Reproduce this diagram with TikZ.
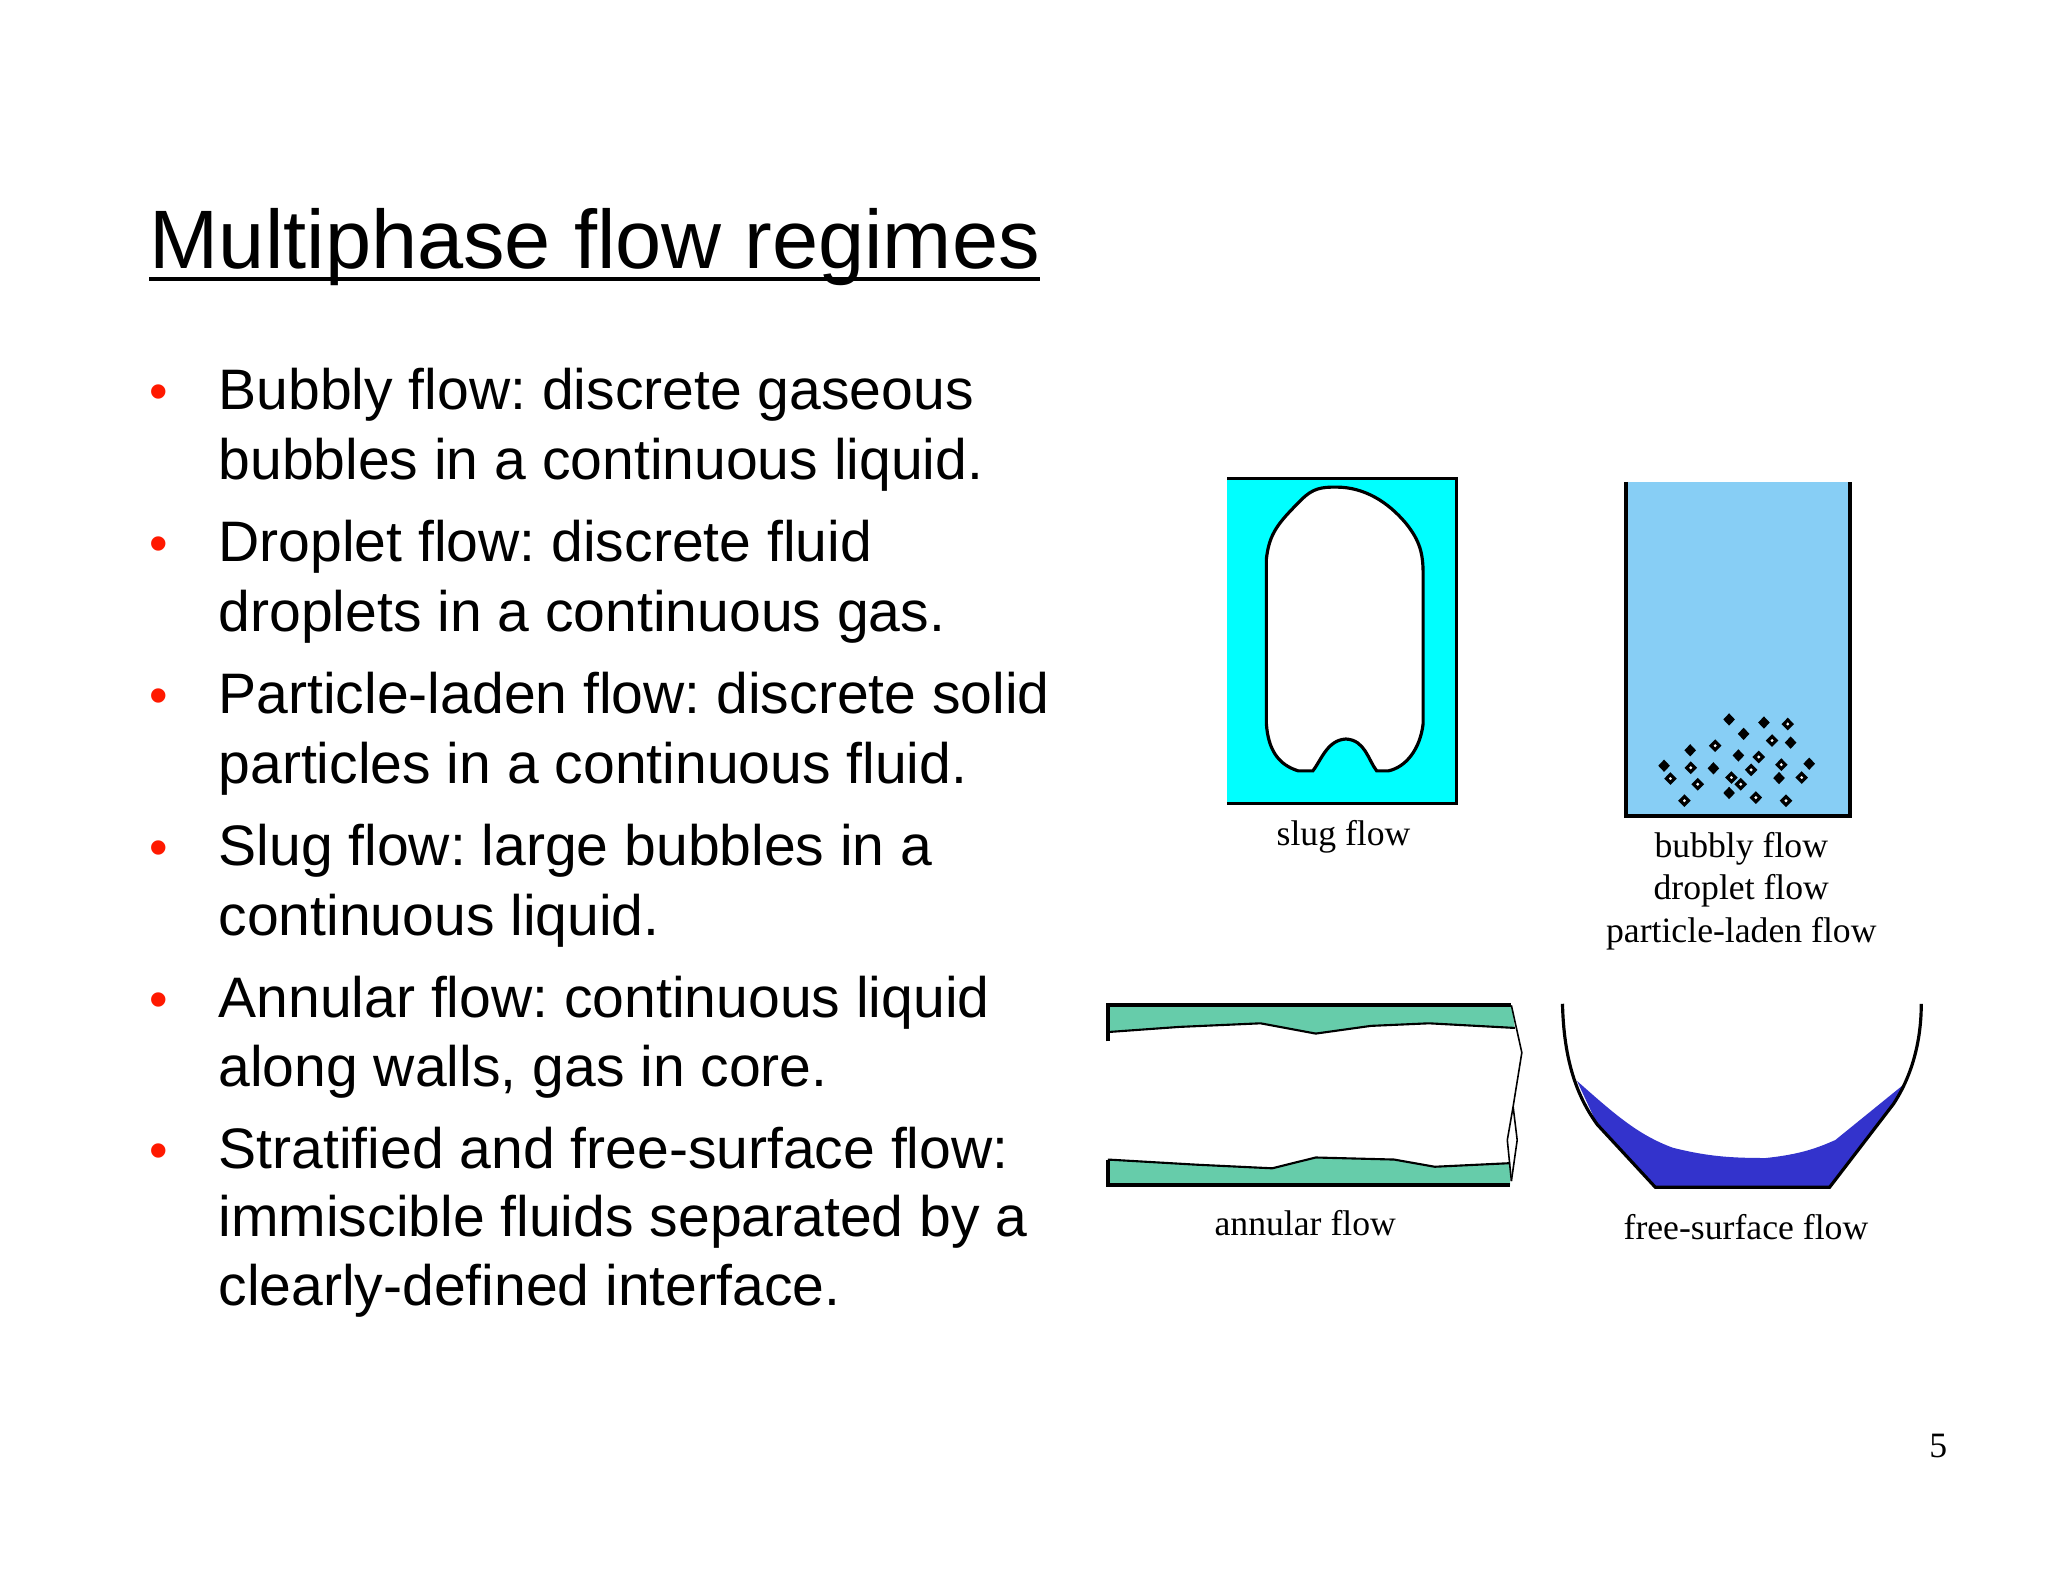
\documentclass[tikz,border=0pt]{standalone}
\usepackage{fontspec}
\setmainfont{Liberation Serif}
\newfontfamily\arial{Liberation Sans}
\frenchspacing
\begin{document}
\begin{tikzpicture}[x=0.5pt,y=-0.5pt,
  line/.style={font=\arial\fontsize{21.6}{24}\selectfont,anchor=base west,inner sep=0},
  bul/.style={font=\arial\fontsize{20}{24}\selectfont,anchor=base west,inner sep=0,text=red!80!orange},
  captxt/.style={font=\fontsize{13.5}{16}\selectfont,inner sep=0},
  hol/.style={draw=black,fill=white,line width=1.2pt}]
\useasboundingbox (0,0) rectangle (1550,1197);
\fill[white] (0,0) rectangle (1550,1197);
\node[anchor=base west,inner sep=0,font=\arial\fontsize{31.4}{36}\selectfont] (title) at (113,203) {Multiphase flow regimes};
\draw[line width=1.3pt] ([yshift=-4pt]title.base west) -- ([yshift=-4pt]title.base east);
% bullets
\foreach \y/\t [count=\i] in {310/{Bubbly flow: discrete gaseous},363/{bubbles in a continuous liquid.},
 425/{Droplet flow: discrete fluid},478/{droplets in a continuous gas.},
 540/{Particle-laden flow: discrete solid},593/{particles in a continuous fluid.},
 655/{Slug flow: large bubbles in a},708/{continuous liquid.},
 770/{Annular flow: continuous liquid},822/{along walls, gas in core.},
 884/{Stratified and free-surface flow:},936/{immiscible fluids separated by a},988/{clearly-defined interface.}}
 {\node[line] (l\i) at (165,\y) {\t};}
\foreach \y [count=\i] in {310,425,540,655,770,884}
 {\node[bul] (b\i) at (113,\y) {\textbullet};}
\node[captxt] (pn) at (1467,1094) {5};
\begin{scope}[shift={(826.6,345.3)},xscale=0.4394,yscale=0.3891]
% slug
\fill[fill={rgb,255:red,0;green,255;blue,255}] (233,43) rectangle (628,676);
\draw[line width=1.2pt] (233,43) -- (628,43) -- (628,676) -- (233,676);
\draw[line width=1.2pt,fill=white] (300,520) -- (300,200) .. controls (305,150) and (320,130) .. (360,85)
  .. controls (380,62) and (395,60) .. (420,60) .. controls (470,60) and (510,90) .. (540,130)
  .. controls (565,165) and (570,190) .. (570,230) -- (570,520)
  .. controls (565,570) and (540,605) .. (510,612) -- (490,612)
  .. controls (475,590) and (470,552) .. (437,550) .. controls (405,552) and (395,590) .. (380,612)
  -- (355,612) .. controls (320,600) and (303,570) .. (300,520) -- cycle;
\node[captxt] (slug) at (433,740) {slug flow};
% bubbly
\fill[fill={rgb,255:red,135;green,206;blue,245}] (920,50) rectangle (1305,700);
\draw[line width=1.4pt] (920,50) -- (920,700) -- (1305,700) -- (1305,50);
\foreach \p in {(1097,512),(1157,518),(1122,540),(1203,557),(1030,572),(1113,582),(985,602),(1070,607),(1235,598),(1183,626),(1097,655)}
 \fill[black] \p ++(-10,0) -- ++(10,-12) -- ++(10,12) -- ++(-10,12) -- cycle;
\foreach \p in {(1198,521),(1171,553),(1073,563),(1148,585),(1187,600),(1031,606),(1135,610),(996,627),(1101,625),(1117,638),(1222,625),(1043,638),(1143,664),(1020,670),(1195,670)}
 \draw[hol] \p ++(-7,0) -- ++(7,-8) -- ++(7,8) -- ++(-7,8) -- cycle;
\node[captxt,align=center] (bub) at (1118,846) {bubbly flow\\droplet flow\\particle-laden flow};
% annular
\fill[white] (27,1068) rectangle (722,1418);
\fill[fill={rgb,255:red,102;green,204;blue,170}] (27,1068) -- (722,1068) -- (728,1112) -- (580,1103) -- (480,1108) -- (385,1123) -- (290,1103) -- (150,1110) -- (27,1120) -- cycle;
\draw[line width=0.8pt] (27,1120) -- (150,1110) -- (290,1103) -- (385,1123) -- (480,1108) -- (580,1103) -- (728,1112);
\fill[fill={rgb,255:red,102;green,204;blue,170}] (27,1418) -- (720,1418) -- (720,1375) -- (590,1382) -- (520,1368) -- (385,1364) -- (310,1385) -- (180,1378) -- (27,1368) -- cycle;
\draw[line width=0.8pt] (27,1368) -- (180,1378) -- (310,1385) -- (385,1364) -- (520,1368) -- (590,1382) -- (720,1375);
\draw[line width=1.4pt] (27,1138) -- (27,1068) -- (722,1068);
\draw[line width=1.4pt] (27,1368) -- (27,1418) -- (720,1418);
\draw[line width=0.6pt] (722,1068) -- (740,1160) -- (725,1265) -- (715,1330) -- (722,1410);
\draw[line width=0.6pt] (725,1265) -- (732,1330) -- (722,1410);
\node[captxt] (ann) at (367,1492) {annular flow};
% free surface
\fill[fill={rgb,255:red,51;green,51;blue,204}] (835,1215) .. controls (900,1280) and (940,1320) .. (1000,1345)
  .. controls (1060,1362) and (1100,1365) .. (1160,1365) .. controls (1220,1358) and (1250,1345) .. (1280,1330)
  -- (1400,1220) -- (1380,1260) -- (1270,1422) -- (970,1422) -- (870,1300) -- cycle;
\draw[line width=1.2pt] (810,1065) .. controls (812,1150) and (825,1230) .. (870,1300) -- (970,1422) -- (1270,1422)
  -- (1380,1260) .. controls (1415,1200) and (1428,1130) .. (1428,1065);
\node[captxt] (fs) at (1126,1500) {free-surface flow};
\end{scope}
\end{tikzpicture}
\end{document}
